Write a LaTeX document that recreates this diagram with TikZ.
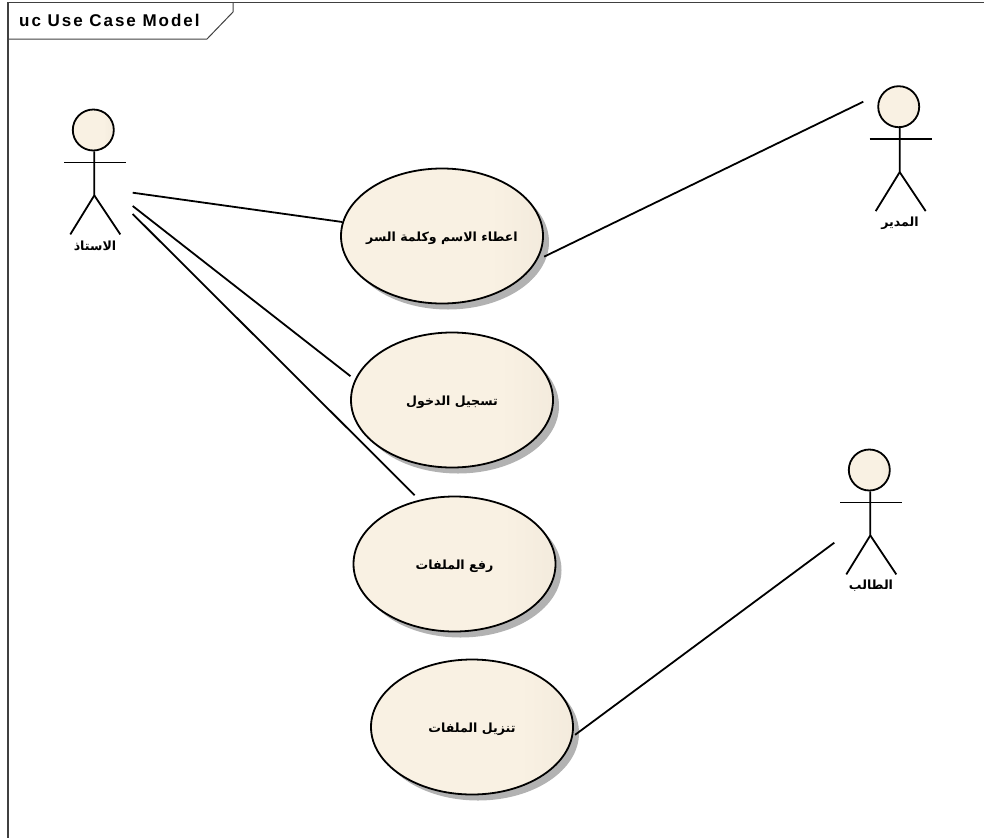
\documentclass[tikz,border=0pt]{standalone}
\usepackage{fontspec}
\setmainfont{Liberation Sans}
\newfontfamily\arabicfont[Script=Arabic]{DejaVu Sans}
\newfontfamily\titlefont[LetterSpace=11.5]{Liberation Sans}
\TeXXeTstate=1
\usetikzlibrary{shapes.geometric,shadows}
\definecolor{ucLight}{HTML}{F9F1E3}
\definecolor{ucDark}{HTML}{E8DFD1}
\pgfdeclarehorizontalshading{usecaseshade}{100bp}{color(0bp)=(ucLight); color(62bp)=(ucLight); color(100bp)=(ucDark)}
\tikzset{
	usecase/.style={ellipse,draw,line width=1.8pt,shading=usecaseshade,minimum width=202pt,minimum height=135pt,inner xsep=-20pt,inner ysep=0pt,text height=11pt,text depth=0pt,font=\arabicfont\bfseries\fontsize{12.6}{15}\selectfont,drop shadow={shadow xshift=6pt,shadow yshift=-6pt,fill=black,opacity=0.3}},
	head/.style={circle,draw,line width=1.8pt,shading=usecaseshade,minimum size=41pt,inner sep=0pt},
	actorname/.style={font=\arabicfont\bfseries\fontsize{12.6}{15}\selectfont,inner sep=0pt},
	link/.style={line width=1.8pt}
}
\newcommand{\actorfig}[3]{
	\node [head](#1) at (#2,#3) {};
	\draw [link] ([xshift=1pt]#1.south) -- ++(0,44) -- ++(-24,39);
	\draw [link] ([xshift=1pt]#1.south) ++(0,44) -- ++(26,39);
	\draw [link] ([xshift=1pt]#1.south) ++(-30,11) -- ++(62,0);
}
\begin{document}
\begin{tikzpicture}[x=1pt,y=-1pt]
	\useasboundingbox (0,0) rectangle (984,838);
	% frame
	\draw [line width=1.2pt,black!75] (984,2.5) -- (8,2.5) -- (8,838);
	\draw [line width=1pt,black!75] (8,39) -- (207,39) -- (233,12) -- (233,2.5);
	\node [anchor=west,inner sep=0pt,font=\titlefont\bfseries\fontsize{17}{19}\selectfont](title) at (19,20.5) {uc Use Case Model};
	% actors
	\actorfig{teacher}{93.3}{130}
	\actorfig{manager}{898.7}{106.7}
	\actorfig{student}{869.3}{470}
	\node [actorname](teacherlabel) at (95,246) {\beginR الاستاذ\endR};
	\node [actorname](managerlabel) at (900,223) {\beginR المدير\endR};
	\node [actorname](studentlabel) at (871,586) {\beginR الطالب\endR};
	% use cases
	\node [usecase](login) at (442,236) {\beginR اعطاء الاسم وكلمة السر\endR};
	\node [usecase](signin) at (452,400) {\beginR تسجيل الدخول\endR};
	\node [usecase](upload) at (454.5,564) {\beginR رفع الملفات\endR};
	\node [usecase](download) at (472,727) {\beginR تنزيل الملفات\endR};
	% connectors
	\coordinate (t1) at (132.7,192.7);
	\coordinate (t2) at (132.7,206);
	\coordinate (t3) at (132.7,214);
	\coordinate (m1) at (863.3,101.7);
	\coordinate (s1) at (834.3,542.7);
	\draw [link] (t1) -- (login.172);
	\draw [link] (t2) -- ([shift={(-6,0)}]signin.166);
	\draw [link] (t3) -- ([shift={(-3,-5)}]upload.120);
	\draw [link] (m1) -- ([shift={(5,0)}]login.-12);
	\draw [link] (s1) -- ([shift={(2,-1)}]download.-5);
\end{tikzpicture}
\end{document}
